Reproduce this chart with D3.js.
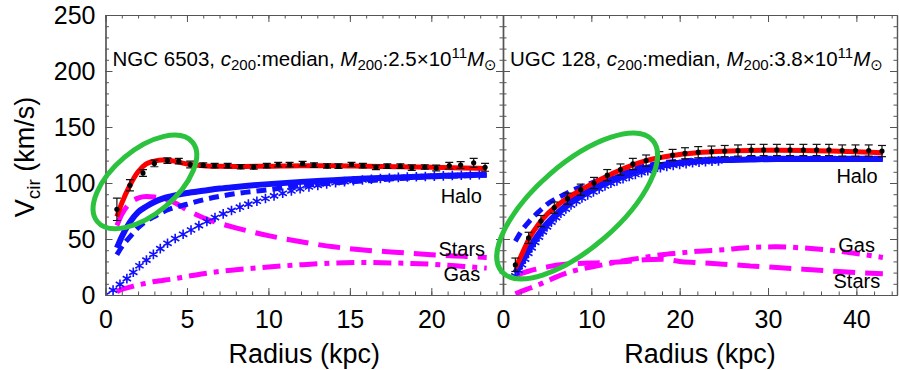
<!DOCTYPE html>
<html>
<head>
<meta charset="utf-8">
<script src="https://cdn.jsdelivr.net/npm/d3@7"></script>
<style>
  body { margin: 0; background: #fff; }
  svg { font-family: "Liberation Sans", Arial, Helvetica, sans-serif; }
</style>
</head>
<body>
<div class="canvas"></div>
<script>
// ---- NGC 6503 (left panel) ----
const ngcR   = [0.7, 1.5, 2.3, 3.0, 3.8, 4.5, 5.2, 6.0, 6.7, 7.5, 8.3, 9.1, 9.9, 10.6, 11.3, 12.1, 12.8, 13.6, 14.3, 15.1, 15.8, 16.6, 17.3, 18.1, 18.8, 19.6, 20.3, 21.1, 21.8, 22.6, 23.3];
const ngcV   = [76.5, 98, 109, 117.5, 120, 119.5, 116.5, 116, 115.5, 115.5, 114.5, 114.3, 115.5, 116.4, 116.4, 117.3, 116, 115.2, 115, 116.5, 115.5, 114, 115, 115, 113.7, 114.3, 113.4, 115.5, 116, 118, 114];
const ngcErr = [10, 5, 3, 3, 2.5, 2.5, 3, 2, 2, 2, 2, 2, 2, 2, 2, 2, 2, 2, 2, 2, 2, 2, 2, 2, 2.5, 2, 2.5, 3, 3, 4, 3.5];

const ngcModelR = [0.7, 1, 1.5, 2, 2.5, 3, 3.5, 4, 5, 6, 7, 8, 10, 12, 14, 16, 18, 20, 22, 23.4];
const ngcTotal  = [70, 82, 98, 110, 117, 119.5, 120.5, 120, 117, 115.5, 115, 114.8, 115, 115.5, 115.5, 115, 114.5, 114, 113.5, 113];
const ngcHaloA  = [42, 52, 65, 74, 79, 83, 86, 88, 91, 93, 95, 96.5, 99, 101, 102.5, 104, 105, 106, 107, 107.5];
const ngcHaloB  = [36, 43, 52, 60, 66, 70, 74, 77, 81, 85, 88, 90.5, 94, 97.5, 100, 102, 104, 105.5, 106.5, 107];
const ngcStars  = [62, 72, 82, 86.5, 88, 87.5, 86, 84, 76, 69, 64, 60, 53, 47.5, 43, 40, 38, 36, 34.5, 33.5];
const ngcGas    = [3, 5, 7, 9, 10.5, 12, 13, 14, 16.5, 19, 21, 22.5, 25, 27, 28.5, 29, 28.5, 27.5, 25.5, 24];
const ngcHaloCR = [0, 0.7, 1, 1.5, 2, 2.5, 3, 3.5, 4, 5, 6, 7, 8, 10, 12, 14, 16, 18, 20, 22, 23.4];
const ngcHaloC  = [0, 7, 11, 17, 25, 31, 37, 43, 48, 56, 64, 71, 77, 87, 95, 100, 103, 105, 106, 107, 107.5];

// ---- UGC 128 (right panel) ----
const ugcR   = [1.4, 2.9, 4.3, 5.8, 7.3, 8.8, 10.3, 11.8, 13.3, 14.7, 16.2, 17.7, 19.2, 20.6, 22.1, 23.6, 25.1, 26.6, 28.1, 29.5, 31.0, 32.5, 34.0, 35.5, 36.9, 38.4, 39.9, 41.4, 42.9];
const ugcV   = [27, 51, 66, 78, 86, 94, 100, 107, 112, 117, 120, 123, 125, 126.5, 127.5, 128, 128.5, 129, 129.5, 129.5, 129.5, 129.5, 129.5, 129.5, 129.5, 129, 129, 129, 128.5];
const ugcErr = [6, 5, 5, 5, 5, 5, 5, 5, 5, 5, 5, 5, 5, 5, 5, 5, 5, 5, 5, 5, 5, 5, 5, 5, 5, 5, 5, 5, 5];

const ugcModelR = [1.4, 2, 3, 4, 5, 6, 7, 8, 10, 12, 14, 16, 18, 20, 22, 25, 28, 31, 34, 37, 40, 43];
const ugcTotal  = [24, 34, 51, 63, 72, 79, 85, 90, 99, 107, 114, 119.5, 123, 125.5, 127, 128.3, 129, 129.2, 129, 128.5, 127.8, 127];
const ugcHaloA  = [20, 28, 42, 54, 64, 72, 79, 85, 94, 102, 108, 113, 116, 118, 119.5, 120.5, 121, 121.5, 121.5, 121.5, 121.5, 121.5];
const ugcHaloB  = [48, 56, 66, 74, 81, 86, 90, 94, 100, 106, 111, 115, 118, 119.5, 120.5, 121.5, 122, 122, 122, 122, 122, 122];
const ugcStars  = [17, 19, 21.5, 23.5, 25, 26.5, 27.5, 28, 28.5, 29, 30, 31.5, 32, 30, 29, 27.5, 26, 24.5, 23, 21.5, 20, 19];
const ugcGas    = [1, 3, 6, 9, 12.5, 16, 19, 21.5, 25, 28, 31, 33.5, 36, 37.5, 39, 40.5, 42.5, 43, 42, 40, 37, 33.5];
const ugcHaloCR = [1.4, 2, 3, 4, 5, 6, 7, 8, 10, 12, 14, 16, 18, 20, 22, 25];
const ugcHaloC  = [17, 25, 39, 51, 61, 69, 76, 82, 91, 99, 105, 110, 114, 116.5, 118.5, 120];

// annotation text
const ngcTitle = ["NGC 6503", "2.5"];
const ugcTitle = ["UGC 128", "3.8"];
const compLabels = ["Halo", "Stars", "Gas"];

const W = 899, H = 370;
const svg = d3.select('.canvas')
  .append('svg')
  .attr('width', W)
  .attr('height', H);

svg.append('rect').attr('width', W).attr('height', H).attr('fill', '#fff');

const y = d3.scaleLinear().domain([0, 250]).range([295, 15]);

const panels = [
  {
    x: d3.scaleLinear().domain([0, 24.4]).range([105.5, 503]),
    major: [0, 5, 10, 15, 20], minor: d3.range(0, 25, 1),
    dataR: ngcR, dataV: ngcV, dataE: ngcErr,
    mR: ngcModelR, total: ngcTotal, haloA: ngcHaloA, haloB: ngcHaloB,
    stars: ngcStars, gas: ngcGas, hcR: ngcHaloCR, haloC: ngcHaloC,
    title: ngcTitle, starSpacing: 9,
    labels: [[23.1, 82], [23.3, 35], [23.0, 12.5]],   // Halo, Stars, Gas (data units)
    ellipse: {r: 2.42, v: 101, rx: 62, ry: 32, rot: -40}
  },
  {
    x: d3.scaleLinear().domain([0, 44.6]).range([503, 897]),
    major: [0, 10, 20, 30, 40], minor: d3.range(0, 45, 2),
    dataR: ugcR, dataV: ugcV, dataE: ugcErr,
    mR: ugcModelR, total: ugcTotal, haloA: ugcHaloA, haloB: ugcHaloB,
    stars: ugcStars, gas: ugcGas, hcR: ugcHaloCR, haloC: ugcHaloC,
    title: ugcTitle, starSpacing: 6.5,
    labels: [[42.4, 100], [42.7, 6.3], [42.1, 38.4]],
    ellipse: {r: 8.4, v: 79.5, rx: 100, ry: 42, rot: -41}
  }
];

const axisCol = '#555';
const magenta = '#ff00ff', blue = '#1010ff', red = '#ff0000', green = '#2bc23e';

// asterisk marker like IDL psym 2
const star = s => `M0,${-s}L0,${s}M${-s*0.87},${-s/2}L${s*0.87},${s/2}M${-s*0.87},${s/2}L${s*0.87},${-s/2}`;

panels.forEach((p, i) => {
  const g = svg.append('g');
  const x = p.x;
  const line = (rs, vs) => d3.line().curve(d3.curveMonotoneX)
    .x((d, k) => x(rs[k])).y(d => y(d))(vs);

  const clipId = 'clip' + i;
  svg.append('clipPath').attr('id', clipId).append('rect')
    .attr('x', x.range()[0]).attr('y', 15)
    .attr('width', x.range()[1] - x.range()[0]).attr('height', 280);
  const plot = g.append('g').attr('clip-path', `url(#${clipId})`);

  // gas (dash-dot) and stars (dashed)
  plot.append('path').attr('d', line(p.mR, p.gas))
    .attr('fill', 'none').attr('stroke', magenta).attr('stroke-width', 5)
    .attr('stroke-dasharray', '18,7,5,7');
  plot.append('path').attr('d', line(p.mR, p.stars))
    .attr('fill', 'none').attr('stroke', magenta).attr('stroke-width', 5)
    .attr('stroke-dasharray', '22,10');

  // halo with asterisks
  const hc = plot.append('path').attr('d', line(p.hcR, p.haloC))
    .attr('fill', 'none').attr('stroke', blue).attr('stroke-width', 1)
    .attr('stroke-dasharray', '1,3');
  const len = hc.node().getTotalLength();
  const pts = d3.range(0, len, p.starSpacing).map(l => hc.node().getPointAtLength(l));
  plot.selectAll('.ast' + i).data(pts).enter().append('path')
    .attr('class', 'ast' + i)
    .attr('transform', d => `translate(${d.x},${d.y})`)
    .attr('d', star(4.8)).attr('stroke', blue).attr('stroke-width', 1.6).attr('fill', 'none');

  // halo dashed and solid
  plot.append('path').attr('d', line(p.mR, p.haloB))
    .attr('fill', 'none').attr('stroke', blue).attr('stroke-width', 5)
    .attr('stroke-dasharray', '10,6');
  plot.append('path').attr('d', line(p.mR, p.haloA))
    .attr('fill', 'none').attr('stroke', blue).attr('stroke-width', 6);

  // total fit
  plot.append('path').attr('d', line(p.mR, p.total))
    .attr('fill', 'none').attr('stroke', red).attr('stroke-width', 5);

  // data with error bars
  const pts2 = p.dataR.map((r, k) => ({r, v: p.dataV[k], e: p.dataE[k]}));
  const eb = plot.selectAll('.eb' + i).data(pts2).enter().append('g');
  eb.append('line')
    .attr('x1', d => x(d.r)).attr('x2', d => x(d.r))
    .attr('y1', d => y(d.v - d.e)).attr('y2', d => y(d.v + d.e))
    .attr('stroke', '#111').attr('stroke-width', 1.2);
  [-1, 1].forEach(s => {
    eb.append('line')
      .attr('x1', d => x(d.r) - 4).attr('x2', d => x(d.r) + 4)
      .attr('y1', d => y(d.v + s * d.e)).attr('y2', d => y(d.v + s * d.e))
      .attr('stroke', '#111').attr('stroke-width', 1.2);
  });
  eb.append('circle').attr('cx', d => x(d.r)).attr('cy', d => y(d.v))
    .attr('r', 2.6).attr('fill', '#000');

  // axes (ticks inward)
  const [x0, x1] = x.range();
  const ax = (gen, tr) => {
    const a = g.append('g').attr('transform', tr).call(gen);
    a.selectAll('path.domain').attr('stroke', axisCol).attr('stroke-width', 1.2);
    a.selectAll('line').attr('stroke', axisCol).attr('stroke-width', 1);
    return a;
  };
  const bottom = ax(d3.axisBottom(x).tickValues(p.major).tickSize(-7).tickSizeOuter(0).tickPadding(15), 'translate(0,295)');
  bottom.selectAll('text').attr('font-size', 25).attr('fill', '#000')
    .attr('font-family', '"Liberation Sans", Arial, sans-serif');
  ax(d3.axisBottom(x).tickValues(p.minor).tickSize(-3.5).tickSizeOuter(0).tickFormat(''), 'translate(0,295)');
  ax(d3.axisTop(x).tickValues(p.major).tickSize(-7).tickSizeOuter(0).tickFormat(''), 'translate(0,15)');
  ax(d3.axisTop(x).tickValues(p.minor).tickSize(-3.5).tickSizeOuter(0).tickFormat(''), 'translate(0,15)');

  const left = ax(d3.axisLeft(y).tickValues(d3.range(0, 251, 50)).tickSize(-7).tickSizeOuter(0).tickPadding(10)
    .tickFormat(i === 0 ? d3.format('d') : ''), `translate(${x0},0)`);
  left.selectAll('text').attr('font-size', 25).attr('fill', '#000')
    .attr('font-family', '"Liberation Sans", Arial, sans-serif');
  ax(d3.axisLeft(y).tickValues(d3.range(0, 251, 10)).tickSize(-3.5).tickSizeOuter(0).tickFormat(''), `translate(${x0},0)`);
  ax(d3.axisRight(y).tickValues(d3.range(0, 251, 50)).tickSize(-7).tickSizeOuter(0).tickFormat(''), `translate(${x1},0)`);
  ax(d3.axisRight(y).tickValues(d3.range(0, 251, 10)).tickSize(-3.5).tickSizeOuter(0).tickFormat(''), `translate(${x1},0)`);

  // x title
  g.append('text').attr('x', (x0 + x1) / 2).attr('y', 363)
    .attr('text-anchor', 'middle').attr('font-size', 27).text('Radius (kpc)');

  // component labels
  compLabels.forEach((t, k) => {
    g.append('text').attr('x', x(p.labels[k][0])).attr('y', y(p.labels[k][1]))
      .attr('text-anchor', 'end').attr('font-size', 20).text(t);
  });

  // title annotation
  const tt = g.append('text').attr('x', x0 + 7).attr('y', 66).attr('font-size', 20.5);
  tt.append('tspan').text(p.title[0] + ', ');
  tt.append('tspan').attr('font-style', 'italic').text('c');
  tt.append('tspan').attr('font-size', 15).attr('dy', 4).text('200');
  tt.append('tspan').attr('dy', -4).text(':median, ');
  tt.append('tspan').attr('font-style', 'italic').text('M');
  tt.append('tspan').attr('font-size', 15).attr('dy', 4).text('200');
  tt.append('tspan').attr('dy', -4).text(':' + p.title[1] + '×10');
  tt.append('tspan').attr('font-size', 15).attr('dy', -8).text('11');
  tt.append('tspan').attr('dy', 8).attr('font-style', 'italic').text('M');
  tt.append('tspan').attr('font-size', 15).attr('dy', 4)
    .attr('font-family', '"DejaVu Sans", sans-serif').text('⊙');

  // highlight ellipse
  const e = p.ellipse;
  g.append('ellipse')
    .attr('transform', `translate(${x(e.r)},${y(e.v)}) rotate(${e.rot})`)
    .attr('rx', e.rx).attr('ry', e.ry)
    .attr('fill', 'none').attr('stroke', green).attr('stroke-width', 5);
});

// y title
const yt = svg.append('text')
  .attr('transform', 'translate(34,157) rotate(-90)')
  .attr('text-anchor', 'middle').attr('font-size', 27);
yt.append('tspan').text('V');
yt.append('tspan').attr('font-size', 19).attr('dy', 6).text('cir');
yt.append('tspan').attr('dy', -6).text(' (km/s)');
</script>
</body>
</html>
